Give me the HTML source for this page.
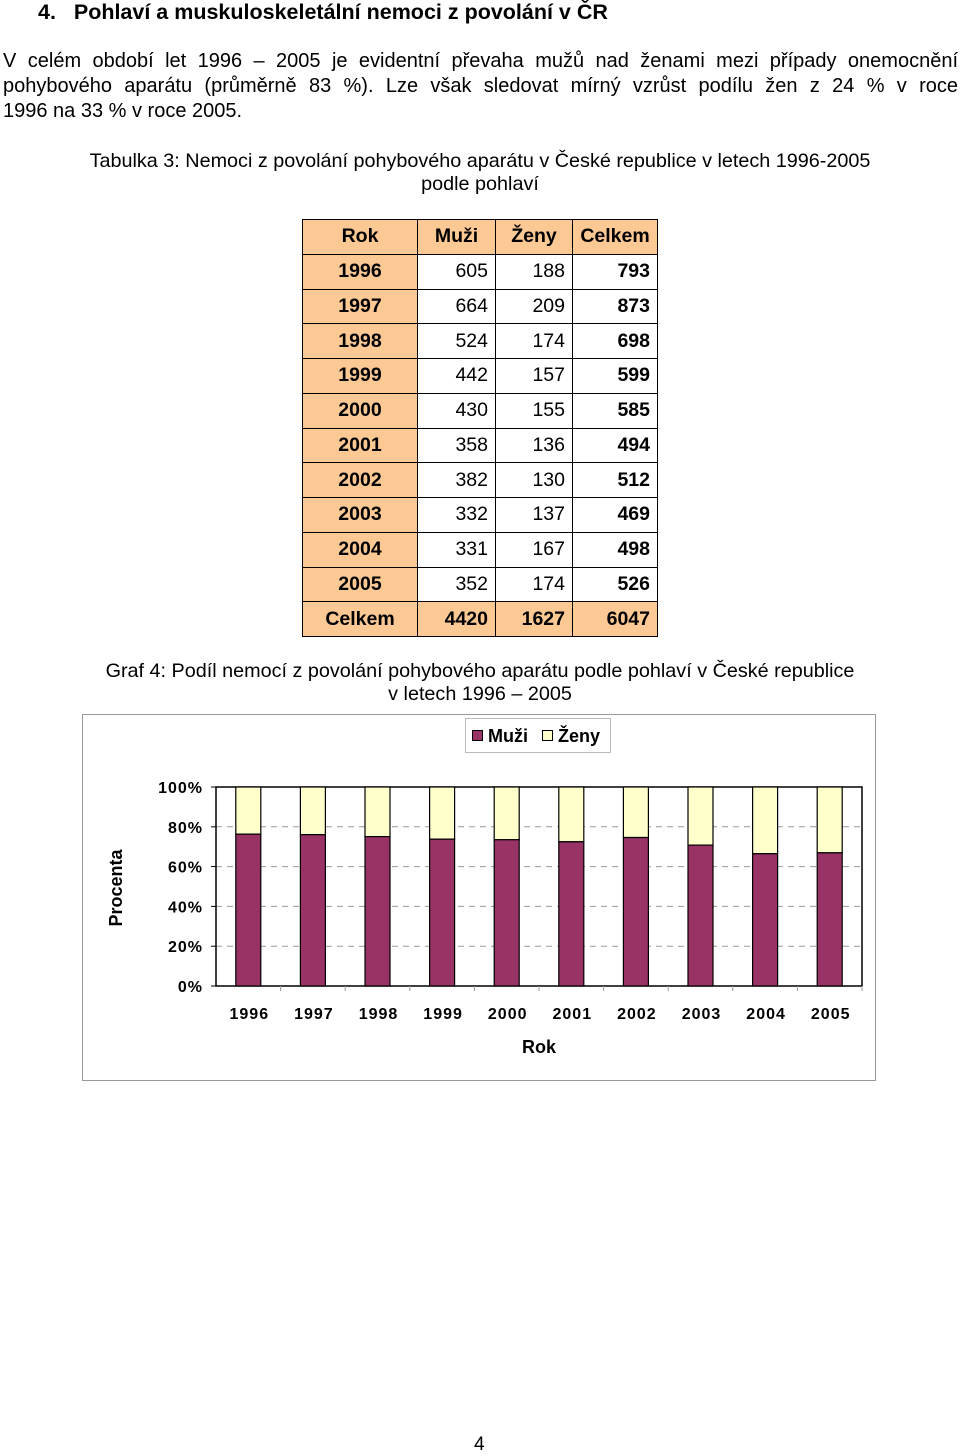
<!DOCTYPE html>
<html><head><meta charset="utf-8">
<style>
body{margin:0;width:960px;height:1455px;background:#fff;font-family:"Liberation Sans",Arial,sans-serif;color:#000;position:relative;overflow:hidden}
.abs{position:absolute}
.jl{text-align:justify;text-align-last:justify;white-space:nowrap;height:25px}
table{border-collapse:collapse;position:absolute;left:302px;top:219px}
tr{height:34.75px}
td{border:1px solid #000;height:34.75px;padding:0 7px;font-size:19.5px;box-sizing:border-box}
td.h{background:#fcc894;font-weight:bold;text-align:center}
td.n{text-align:right}
td.b{font-weight:bold}
</style></head><body>
<div class="abs" style="left:38px;top:0px;font-size:21.5px;font-weight:bold">4.&nbsp;&nbsp;&nbsp;Pohlaví a muskuloskeletální nemoci z povolání v ČR</div>
<div class="abs" style="left:3px;top:49px;width:955px;font-size:20px;line-height:25px">
<div class="jl">V celém období let 1996 – 2005 je evidentní převaha mužů nad ženami mezi případy onemocnění</div>
<div class="jl">pohybového aparátu (průměrně 83 %). Lze však sledovat mírný vzrůst podílu žen z 24 % v roce</div>
<div>1996 na 33 % v roce 2005.</div>
</div>
<div class="abs" style="left:0;width:960px;top:150px;font-size:19.8px;line-height:23px;text-align:center">Tabulka 3: Nemoci z povolání pohybového aparátu v České republice v letech 1996-2005<br>podle pohlaví</div>
<table>
<colgroup><col style="width:115px"><col style="width:78px"><col style="width:77px"><col style="width:85px"></colgroup>
<tbody id="tb"></tbody></table>
<div class="abs" style="left:0;width:960px;top:660px;font-size:19.8px;line-height:23px;text-align:center">Graf 4: Podíl nemocí z povolání pohybového aparátu podle pohlaví v České republice<br>v letech 1996 – 2005</div>
<svg class="abs" style="left:0;top:0" width="960" height="1455" id="chart"></svg>
<div class="abs" style="left:474px;top:1434px;font-size:19px">4</div>
<script>
const years=["1996","1997","1998","1999","2000","2001","2002","2003","2004","2005"];
const men=[605,664,524,442,430,358,382,332,331,352];
const women=[188,209,174,157,155,136,130,137,167,174];
const yTicks=[0,20,40,60,80,100];
const tb=document.getElementById('tb');
function row(cells,name){const tr=document.createElement('tr');


cells.forEach(c=>{const td=document.createElement('td');td.className=c[1];td.textContent=c[0];tr.appendChild(td);});tb.appendChild(tr);}
row([["Rok","h"],["Muži","h"],["Ženy","h"],["Celkem","h"]],'table-header');
let sm=0,sw=0;
years.forEach((y,i)=>{sm+=men[i];sw+=women[i];row([[y,"h"],[men[i],"n"],[women[i],"n"],[men[i]+women[i],"n b"]],'table-row-'+y);});
row([["Celkem","h"],[sm,"h n"],[sw,"h n"],[sm+sw,"h n"]],'table-total-row');
const NS="http://www.w3.org/2000/svg",svg=document.getElementById('chart');
function el(t,a,txt){const e=document.createElementNS(NS,t);for(const k in a)e.setAttribute(k,a[k]);if(txt!==undefined)e.textContent=txt;svg.appendChild(e);return e;}
const X0=216,X1=862,Y0=986,Y1=787,bw=(X1-X0)/years.length;
const y=v=>Y0-(Y0-Y1)*v/100, xc=i=>X0+bw*(i+0.5);
let e=el('rect',{x:82.5,y:714.5,width:793,height:366,fill:'#fff',stroke:'#999'});

yTicks.forEach(t=>{
 if(t>0&&t<100){e=el('line',{x1:X0,x2:X1,y1:y(t),y2:y(t),stroke:'#999','stroke-dasharray':'6,5'});}
 e=el('text',{x:203,y:y(t)+6,'text-anchor':'end','font-size':'16','font-weight':'bold','letter-spacing':'1'},t+'%');
 
 el('line',{x1:X0-5,x2:X0,y1:y(t),y2:y(t),stroke:'#000'});
});
e=el('rect',{x:X0,y:Y1,width:X1-X0,height:Y0-Y1,fill:'none',stroke:'#000','stroke-width':1.5});

years.forEach((yr,i)=>{
 const tot=men[i]+women[i],pm=men[i]/tot*100,cx=xc(i);
 e=el('rect',{x:cx-12.5,y:y(100),width:25,height:y(pm)-y(100),fill:'#ffffcc',stroke:'#000','stroke-width':1.2});
 
 e=el('rect',{x:cx-12.5,y:y(pm),width:25,height:Y0-y(pm),fill:'#993366',stroke:'#000','stroke-width':1.2});
 
 el('line',{x1:X0+bw*(i+1),x2:X0+bw*(i+1),y1:Y0,y2:Y0+5,stroke:'#999'});
 e=el('text',{x:cx+1,y:1019,'text-anchor':'middle','font-size':'16','font-weight':'bold','letter-spacing':'1'},yr);
 
});
e=el('text',{x:539,y:1053,'text-anchor':'middle','font-size':'18','font-weight':'bold'},'Rok');

e=el('text',{x:0,y:0,transform:'translate(122,888) rotate(-90)','text-anchor':'middle','font-size':'18','font-weight':'bold'},'Procenta');

e=el('rect',{x:465.5,y:718.5,width:145,height:34,fill:'#fff',stroke:'#bbb'});

el('rect',{x:472.5,y:730.5,width:10,height:10,fill:'#993366',stroke:'#000'});
e=el('text',{x:488,y:742,'font-size':'18','font-weight':'bold'},'Muži');

el('rect',{x:542.5,y:730.5,width:10,height:10,fill:'#ffffcc',stroke:'#000'});
e=el('text',{x:558,y:742,'font-size':'18','font-weight':'bold'},'Ženy');

</script>
</body></html>
